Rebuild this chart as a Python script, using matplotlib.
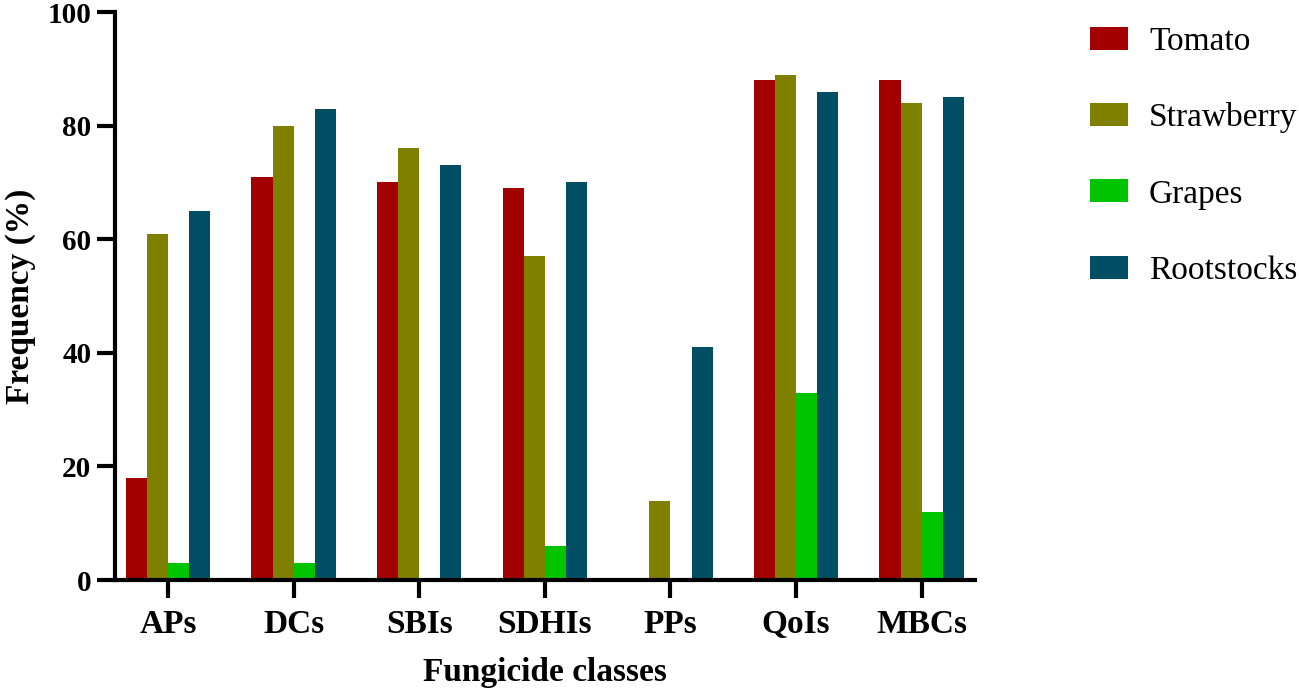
import matplotlib
matplotlib.use("Agg")
import matplotlib.pyplot as plt
import numpy as np

# data
classes = ["APs", "DCs", "SBIs", "SDHIs", "PPs", "QoIs", "MBCs"]
tomato = [18, 71, 70, 69, 0, 88, 88]
strawberry = [61, 80, 76, 57, 14, 89, 84]
grapes = [3, 3, 0, 6, 0, 33, 12]
rootstocks = [65, 83, 73, 70, 41, 86, 85]

series_names = ["Tomato", "Strawberry", "Grapes", "Rootstocks"]
colors = ["#A30000", "#808000", "#00C400", "#004E64"]

plt.rcParams['font.family'] = ['Liberation Serif', 'DejaVu Serif']

fig = plt.figure(figsize=(12.99, 6.91), dpi=100)
ax = fig.add_axes([0.0885, 0.1606, 0.662, 0.822])

x = np.arange(len(classes))
w = 0.168
data = [tomato, strawberry, grapes, rootstocks]
for i in range(4):
    ax.bar(x + (i - 1.5) * w, data[i], width=w, color=colors[i],
           label=series_names[i], linewidth=0)

ax.set_xlim(-0.423, 6.424)
ax.set_ylim(0, 100)
ax.set_yticks([0, 20, 40, 60, 80, 100])
ax.set_xticks(x)
ax.set_xticklabels(classes)

for s in ["top", "right"]:
    ax.spines[s].set_visible(False)
for s in ["left", "bottom"]:
    ax.spines[s].set_linewidth(3)
    ax.spines[s].set_capstyle("projecting")

ax.tick_params(axis="both", width=3, length=13, direction="out")
ax.tick_params(axis="y", pad=4, labelsize=21)
ax.tick_params(axis="x", pad=8, labelsize=24)
for lab in ax.get_xticklabels() + ax.get_yticklabels():
    lab.set_fontweight("bold")

ax.set_ylabel("Frequency (%)", fontsize=24, fontweight="bold", labelpad=8)
ax.set_xlabel("Fungicide classes", fontsize=24, fontweight="bold", labelpad=12)

ax.legend(loc="upper left", bbox_to_anchor=(1090 / 1299, 0.962),
          bbox_transform=fig.transFigure, frameon=False, fontsize=24,
          handlelength=1.14, handleheight=0.69, labelspacing=1.37,
          handletextpad=0.63, borderpad=0, borderaxespad=0)

fig.savefig("out.png", dpi=100)
